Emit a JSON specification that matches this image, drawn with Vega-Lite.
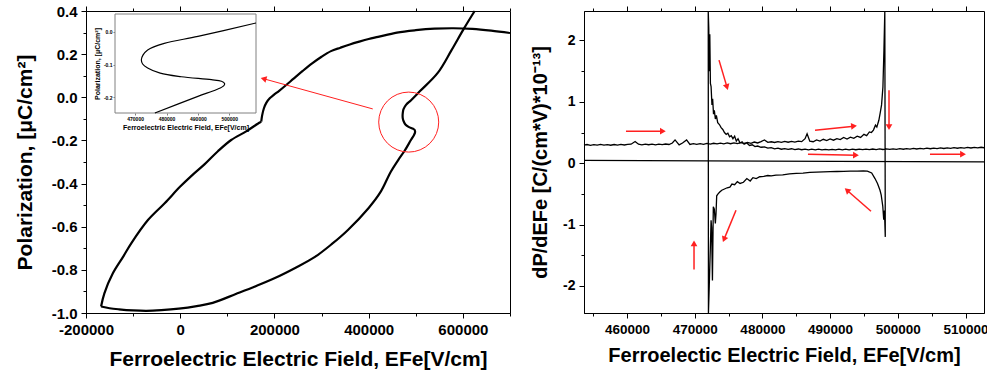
{
  "$schema": "https://vega.github.io/schema/vega-lite/v6.json",
  "background": "white",
  "padding": {"left": 13, "top": 3, "right": 0, "bottom": 0},
  "spacing": 15,
  "config": {
    "font": "Liberation Sans",
    "view": {"stroke": "black", "strokeWidth": 1},
    "axis": {"grid": false, "domainColor": "black", "domainWidth": 1, "tickColor": "black", "tickWidth": 1, "labelColor": "black", "titleColor": "black", "labelFontWeight": "bold", "titleFontWeight": "bold"}
  },
  "datasets": {
    "loop": [
      {"s":"lo","E":-168000,"P":-0.970},{"s":"lo","E":-150000,"P":-0.978},{"s":"lo","E":-130000,"P":-0.983},{"s":"lo","E":-100000,"P":-0.988},{"s":"lo","E":-72000,"P":-0.990},{"s":"lo","E":-40000,"P":-0.987},{"s":"lo","E":-3000,"P":-0.980},{"s":"lo","E":35000,"P":-0.968},{"s":"lo","E":69000,"P":-0.953},{"s":"lo","E":118000,"P":-0.912},{"s":"lo","E":160000,"P":-0.876},{"s":"lo","E":201000,"P":-0.838},{"s":"lo","E":245000,"P":-0.790},{"s":"lo","E":286000,"P":-0.740},{"s":"lo","E":322000,"P":-0.680},{"s":"lo","E":356000,"P":-0.615},{"s":"lo","E":400000,"P":-0.513},{"s":"lo","E":425000,"P":-0.440},{"s":"lo","E":447000,"P":-0.345},{"s":"lo","E":463000,"P":-0.290},{"s":"lo","E":476300,"P":-0.248},{"s":"lo","E":490000,"P":-0.197},{"s":"lo","E":496000,"P":-0.176},{"s":"lo","E":498200,"P":-0.165},{"s":"lo","E":498500,"P":-0.158},{"s":"lo","E":497500,"P":-0.151},{"s":"lo","E":494300,"P":-0.146},{"s":"lo","E":484700,"P":-0.137},{"s":"lo","E":478000,"P":-0.126},{"s":"lo","E":474000,"P":-0.110},{"s":"lo","E":472400,"P":-0.098},{"s":"lo","E":472000,"P":-0.085},{"s":"lo","E":472500,"P":-0.071},{"s":"lo","E":474000,"P":-0.055},{"s":"lo","E":479300,"P":-0.035},{"s":"lo","E":490000,"P":-0.0135},{"s":"lo","E":508500,"P":0.0275},{"s":"lo","E":546600,"P":0.113},{"s":"lo","E":575000,"P":0.215},{"s":"lo","E":601800,"P":0.317},{"s":"lo","E":625000,"P":0.400},
      {"s":"u1","E":700000,"P":0.298},{"s":"u1","E":660000,"P":0.309},{"s":"u1","E":620000,"P":0.317},{"s":"u1","E":580000,"P":0.320},{"s":"u1","E":540000,"P":0.318},{"s":"u1","E":500000,"P":0.311},{"s":"u1","E":460000,"P":0.300},{"s":"u1","E":420000,"P":0.280},{"s":"u1","E":400000,"P":0.270},{"s":"u1","E":380000,"P":0.258},{"s":"u1","E":360000,"P":0.245},{"s":"u1","E":340000,"P":0.230},{"s":"u1","E":320000,"P":0.214},{"s":"u1","E":300000,"P":0.188},{"s":"u1","E":280000,"P":0.157},{"s":"u1","E":260000,"P":0.122},{"s":"u1","E":240000,"P":0.085},{"s":"u1","E":225000,"P":0.057},{"s":"u1","E":210000,"P":0.030},{"s":"u1","E":198000,"P":0.010},{"s":"u1","E":190000,"P":-0.005},{"s":"u1","E":183000,"P":-0.025},{"s":"u1","E":177500,"P":-0.052},{"s":"u1","E":173800,"P":-0.085},{"s":"u1","E":172000,"P":-0.113},
      {"s":"u2","E":172000,"P":-0.113},{"s":"u2","E":168500,"P":-0.117},{"s":"u2","E":140000,"P":-0.158},{"s":"u2","E":108200,"P":-0.198},{"s":"u2","E":80000,"P":-0.250},{"s":"u2","E":52000,"P":-0.310},{"s":"u2","E":25000,"P":-0.362},{"s":"u2","E":0,"P":-0.414},{"s":"u2","E":-33000,"P":-0.491},{"s":"u2","E":-68500,"P":-0.569},{"s":"u2","E":-104000,"P":-0.677},{"s":"u2","E":-120000,"P":-0.735},{"s":"u2","E":-143000,"P":-0.816},{"s":"u2","E":-161000,"P":-0.909},{"s":"u2","E":-168000,"P":-0.970}
    ],
    "deriv": [
      {"s":"m","E":453650,"D":0.295},{"s":"m","E":454100,"D":0.305},{"s":"m","E":454600,"D":0.292},{"s":"m","E":455100,"D":0.303},{"s":"m","E":455600,"D":0.294},{"s":"m","E":456100,"D":0.306},{"s":"m","E":456600,"D":0.295},{"s":"m","E":457100,"D":0.304},{"s":"m","E":457600,"D":0.293},{"s":"m","E":458100,"D":0.305},{"s":"m","E":458600,"D":0.296},{"s":"m","E":459100,"D":0.307},{"s":"m","E":459600,"D":0.297},{"s":"m","E":460100,"D":0.306},{"s":"m","E":460600,"D":0.31},{"s":"m","E":461200,"D":0.355},{"s":"m","E":461700,"D":0.31},{"s":"m","E":462200,"D":0.3},{"s":"m","E":462700,"D":0.312},{"s":"m","E":463200,"D":0.301},{"s":"m","E":463700,"D":0.311},{"s":"m","E":464200,"D":0.3},{"s":"m","E":464700,"D":0.312},{"s":"m","E":465200,"D":0.302},{"s":"m","E":465700,"D":0.313},{"s":"m","E":466200,"D":0.305},{"s":"m","E":466700,"D":0.33},{"s":"m","E":467100,"D":0.38},{"s":"m","E":467700,"D":0.3},{"s":"m","E":468200,"D":0.33},{"s":"m","E":468800,"D":0.38},{"s":"m","E":469300,"D":0.305},{"s":"m","E":469800,"D":0.318},{"s":"m","E":470300,"D":0.306},{"s":"m","E":470800,"D":0.32},{"s":"m","E":471300,"D":0.308},{"s":"m","E":471800,"D":0.322},{"s":"m","E":472300,"D":0.312},{"s":"m","E":472800,"D":0.325},{"s":"m","E":473300,"D":0.314},{"s":"m","E":473800,"D":0.327},{"s":"m","E":474300,"D":0.316},{"s":"m","E":474800,"D":0.33},{"s":"m","E":475300,"D":0.318},{"s":"m","E":475800,"D":0.332},{"s":"m","E":476300,"D":0.32},{"s":"m","E":476800,"D":0.335},{"s":"m","E":477300,"D":0.322},{"s":"m","E":477800,"D":0.34},{"s":"m","E":478300,"D":0.325},{"s":"m","E":478800,"D":0.345},{"s":"m","E":479300,"D":0.33},{"s":"m","E":479800,"D":0.352},{"s":"m","E":480300,"D":0.38},{"s":"m","E":480800,"D":0.34},{"s":"m","E":481300,"D":0.35},{"s":"m","E":481800,"D":0.338},{"s":"m","E":482300,"D":0.352},{"s":"m","E":482800,"D":0.34},{"s":"m","E":483300,"D":0.355},{"s":"m","E":483800,"D":0.342},{"s":"m","E":484300,"D":0.356},{"s":"m","E":484800,"D":0.345},{"s":"m","E":485300,"D":0.36},{"s":"m","E":485800,"D":0.352},{"s":"m","E":486300,"D":0.4},{"s":"m","E":486600,"D":0.48},{"s":"m","E":487000,"D":0.36},{"s":"m","E":487500,"D":0.35},{"s":"m","E":488000,"D":0.38},{"s":"m","E":488500,"D":0.36},{"s":"m","E":489000,"D":0.39},{"s":"m","E":489500,"D":0.37},{"s":"m","E":490000,"D":0.395},{"s":"m","E":490500,"D":0.375},{"s":"m","E":491000,"D":0.4},{"s":"m","E":491500,"D":0.385},{"s":"m","E":492000,"D":0.42},{"s":"m","E":492500,"D":0.395},{"s":"m","E":493000,"D":0.425},{"s":"m","E":493500,"D":0.405},{"s":"m","E":494000,"D":0.44},{"s":"m","E":494500,"D":0.42},{"s":"m","E":495000,"D":0.47},{"s":"m","E":495400,"D":0.45},{"s":"m","E":495800,"D":0.51},{"s":"m","E":496100,"D":0.5},{"s":"m","E":496400,"D":0.54},{"s":"m","E":496700,"D":0.62},{"s":"m","E":496900,"D":0.59},{"s":"m","E":497200,"D":0.7},{"s":"m","E":497400,"D":0.82},{"s":"m","E":497600,"D":0.95},{"s":"m","E":497800,"D":1.24},{"s":"m","E":497950,"D":1.84},{"s":"m","E":498080,"D":2.48},
      {"s":"m","E":498150,"D":-1.2},{"s":"m","E":498030,"D":-0.77},{"s":"m","E":497920,"D":-0.92},{"s":"m","E":497780,"D":-0.7},{"s":"m","E":497550,"D":-0.52},{"s":"m","E":497370,"D":-0.44},{"s":"m","E":497000,"D":-0.33},{"s":"m","E":496630,"D":-0.25},{"s":"m","E":496140,"D":-0.158},{"s":"m","E":495500,"D":-0.13},{"s":"m","E":494900,"D":-0.125},{"s":"m","E":494000,"D":-0.13},{"s":"m","E":493000,"D":-0.128},{"s":"m","E":492000,"D":-0.133},{"s":"m","E":491000,"D":-0.135},{"s":"m","E":490000,"D":-0.138},{"s":"m","E":489000,"D":-0.14},{"s":"m","E":488000,"D":-0.145},{"s":"m","E":487000,"D":-0.15},{"s":"m","E":486000,"D":-0.16},{"s":"m","E":485000,"D":-0.165},{"s":"m","E":484000,"D":-0.175},{"s":"m","E":483000,"D":-0.19},{"s":"m","E":482000,"D":-0.195},{"s":"m","E":481300,"D":-0.205},{"s":"m","E":480800,"D":-0.2},{"s":"m","E":480200,"D":-0.215},{"s":"m","E":479600,"D":-0.22},{"s":"m","E":479100,"D":-0.25},{"s":"m","E":478600,"D":-0.235},{"s":"m","E":478200,"D":-0.29},{"s":"m","E":477700,"D":-0.25},{"s":"m","E":477200,"D":-0.31},{"s":"m","E":476700,"D":-0.33},{"s":"m","E":476300,"D":-0.3},{"s":"m","E":475900,"D":-0.35},{"s":"m","E":475500,"D":-0.34},{"s":"m","E":475200,"D":-0.39},{"s":"m","E":474800,"D":-0.4},{"s":"m","E":474400,"D":-0.42},{"s":"m","E":474000,"D":-0.44},{"s":"m","E":473700,"D":-0.47},{"s":"m","E":473450,"D":-0.5},{"s":"m","E":473250,"D":-0.53},{"s":"m","E":473150,"D":-0.82},{"s":"m","E":473050,"D":-0.98},{"s":"m","E":472900,"D":-0.75},{"s":"m","E":472750,"D":-0.71},{"s":"m","E":472620,"D":-1.91},{"s":"m","E":472500,"D":-1.05},{"s":"m","E":472420,"D":-0.93},{"s":"m","E":472300,"D":-1.42},{"s":"m","E":472150,"D":-2.0},{"s":"m","E":472030,"D":-2.44},{"s":"m","E":472000,"D":2.48},
      {"s":"m","E":472080,"D":2.2},{"s":"m","E":472150,"D":1.5},{"s":"m","E":472230,"D":2.1},{"s":"m","E":472320,"D":1.3},{"s":"m","E":472420,"D":1.25},{"s":"m","E":472550,"D":0.95},{"s":"m","E":472650,"D":1.05},{"s":"m","E":472780,"D":0.8},{"s":"m","E":472900,"D":0.86},{"s":"m","E":473050,"D":0.72},{"s":"m","E":473200,"D":0.78},{"s":"m","E":473400,"D":0.66},{"s":"m","E":473650,"D":0.63},{"s":"m","E":473900,"D":0.58},{"s":"m","E":474150,"D":0.55},{"s":"m","E":474400,"D":0.5},{"s":"m","E":474650,"D":0.47},{"s":"m","E":474900,"D":0.49},{"s":"m","E":475150,"D":0.43},{"s":"m","E":475400,"D":0.45},{"s":"m","E":475650,"D":0.4},{"s":"m","E":475900,"D":0.44},{"s":"m","E":476150,"D":0.36},{"s":"m","E":476400,"D":0.4},{"s":"m","E":476700,"D":0.33},{"s":"m","E":477000,"D":0.35},{"s":"m","E":477300,"D":0.31},{"s":"m","E":477700,"D":0.33},{"s":"m","E":478100,"D":0.29},{"s":"m","E":478500,"D":0.3},{"s":"m","E":478900,"D":0.27},{"s":"m","E":479300,"D":0.28},{"s":"m","E":479800,"D":0.26},{"s":"m","E":480300,"D":0.265},{"s":"m","E":480800,"D":0.245},{"s":"m","E":481300,"D":0.255},{"s":"m","E":481800,"D":0.235},{"s":"m","E":482300,"D":0.245},{"s":"m","E":482800,"D":0.228},{"s":"m","E":483300,"D":0.238},{"s":"m","E":483800,"D":0.226},{"s":"m","E":484300,"D":0.236},{"s":"m","E":484800,"D":0.222},{"s":"m","E":485300,"D":0.232},{"s":"m","E":485800,"D":0.22},{"s":"m","E":486300,"D":0.23},{"s":"m","E":486800,"D":0.218},{"s":"m","E":487300,"D":0.228},{"s":"m","E":487800,"D":0.218},{"s":"m","E":488300,"D":0.228},{"s":"m","E":488800,"D":0.217},{"s":"m","E":489300,"D":0.227},{"s":"m","E":489800,"D":0.217},{"s":"m","E":490300,"D":0.227},{"s":"m","E":490800,"D":0.218},{"s":"m","E":491300,"D":0.228},{"s":"m","E":491800,"D":0.218},{"s":"m","E":492300,"D":0.228},{"s":"m","E":492800,"D":0.219},{"s":"m","E":493300,"D":0.229},{"s":"m","E":493800,"D":0.22},{"s":"m","E":494300,"D":0.23},{"s":"m","E":494800,"D":0.221},{"s":"m","E":495300,"D":0.231},{"s":"m","E":495800,"D":0.222},{"s":"m","E":496300,"D":0.232},{"s":"m","E":496800,"D":0.223},{"s":"m","E":497300,"D":0.233},{"s":"m","E":497800,"D":0.224},{"s":"m","E":498300,"D":0.234},{"s":"m","E":498800,"D":0.225},{"s":"m","E":499300,"D":0.235},{"s":"m","E":499800,"D":0.226},{"s":"m","E":500300,"D":0.237},{"s":"m","E":500800,"D":0.228},{"s":"m","E":501300,"D":0.239},{"s":"m","E":501800,"D":0.23},{"s":"m","E":502300,"D":0.241},{"s":"m","E":502800,"D":0.232},{"s":"m","E":503300,"D":0.243},{"s":"m","E":503800,"D":0.234},{"s":"m","E":504300,"D":0.245},{"s":"m","E":504800,"D":0.236},{"s":"m","E":505300,"D":0.247},{"s":"m","E":505800,"D":0.238},{"s":"m","E":506300,"D":0.249},{"s":"m","E":506800,"D":0.24},{"s":"m","E":507300,"D":0.251},{"s":"m","E":507800,"D":0.242},{"s":"m","E":508300,"D":0.253},{"s":"m","E":508800,"D":0.244},{"s":"m","E":509300,"D":0.255},{"s":"m","E":509800,"D":0.246},{"s":"m","E":510300,"D":0.257},{"s":"m","E":510800,"D":0.248},{"s":"m","E":511300,"D":0.259},{"s":"m","E":511800,"D":0.25},{"s":"m","E":512300,"D":0.26},{"s":"m","E":512730,"D":0.252},
      {"s":"f","E":453650,"D":0.045},{"s":"f","E":512730,"D":0.022}
    ],
    "arrL": [{"x1":408700,"y1":-0.054,"x2":176900,"y2":0.086,"a":285}],
    "arrR": [
      {"x1":459850,"y1":0.522,"x2":465300,"y2":0.522,"a":90},
      {"x1":473590,"y1":1.68,"x2":474770,"y2":1.24,"a":163},
      {"x1":487770,"y1":0.538,"x2":493530,"y2":0.604,"a":84},
      {"x1":498700,"y1":1.19,"x2":498700,"y2":0.587,"a":180},
      {"x1":486730,"y1":0.147,"x2":493820,"y2":0.13,"a":91},
      {"x1":504750,"y1":0.147,"x2":509630,"y2":0.147,"a":90},
      {"x1":496040,"y1":-0.783,"x2":492490,"y2":-0.44,"a":311},
      {"x1":476100,"y1":-0.767,"x2":474330,"y2":-1.24,"a":202},
      {"x1":469900,"y1":-1.73,"x2":469900,"y2":-1.305,"a":0}
    ],
    "circ": [{"E":485000,"P":-0.115}],
    "insetbox": [{"x1":463600,"x2":508500,"y1":-0.248,"y2":0.055}]
  },
  "hconcat": [
    {
      "width": 424,
      "height": 302,
      "layer": [
        {
          "layer": [
            {
              "data": {"name": "loop"},
              "mark": {"type": "line", "interpolate": "catmull-rom", "strokeWidth": 2.2, "color": "black"},
              "encoding": {
                "x": {"field": "E", "type": "quantitative", "scale": {"domain": [-200000, 700000], "nice": false, "zero": false},
                  "axis": {"orient": "bottom", "title": "Ferroelectric Electric Field, EFe[V/cm]", "values": [-200000,-100000,0,100000,200000,300000,400000,500000,600000,700000],
                    "labelExpr": "datum.value % 200000 == 0 ? replace(format(datum.value, 'd'), '\u2212', '-') : ''",
                    "tickSize": {"condition": {"test": "datum.value % 200000 == 0", "value": 5}, "value": 3},
                    "labelFontSize": 15, "titleFontSize": 21, "labelPadding": 4, "titlePadding": 11, "labelOverlap": false, "labelFlush": false}},
                "y": {"field": "P", "type": "quantitative", "scale": {"domain": [-1.0, 0.4], "nice": false, "zero": false},
                  "axis": {"orient": "left", "title": "Polarization, [μC/cm²]", "values": [-1,-0.9,-0.8,-0.7,-0.6,-0.5,-0.4,-0.3,-0.2,-0.1,0,0.1,0.2,0.3,0.4],
                    "labelExpr": "abs(round(datum.value*10)) % 2 == 0 ? replace(format(datum.value, '.1f'), '\u2212', '-') : ''",
                    "tickSize": {"condition": {"test": "abs(round(datum.value*10)) % 2 == 0", "value": 5}, "value": 3},
                    "labelFontSize": 15, "titleFontSize": 21, "labelPadding": 4, "titlePadding": 16, "labelOverlap": false}},
                "detail": {"field": "s"},
                "order": {"value": null}
              }
            },
            {
              "data": {"name": "circ"},
              "mark": {"type": "point", "opacity": 0},
              "encoding": {
                "x": {"field": "E", "type": "quantitative", "axis": {"orient": "top", "labels": false, "title": null, "domain": false, "values": [-200000,-100000,0,100000,200000,300000,400000,500000,600000,700000], "tickSize": {"condition": {"test": "datum.value % 200000 == 0", "value": 5}, "value": 3}}},
                "y": {"field": "P", "type": "quantitative", "axis": null}
              }
            },
            {
              "data": {"name": "arrL"},
              "mark": {"type": "rule", "color": "#ff2020", "strokeWidth": 1},
              "encoding": {
                "x": {"field": "x1", "type": "quantitative", "axis": null}, "x2": {"field": "x2"},
                "y": {"field": "y1", "type": "quantitative", "axis": null}, "y2": {"field": "y2"}
              }
            },
            {
              "data": {"name": "arrL"},
              "mark": {"type": "point", "shape": "triangle-up", "filled": true, "color": "#ff2020", "size": 45, "opacity": 1, "strokeWidth": 0},
              "encoding": {
                "x": {"field": "x2", "type": "quantitative", "axis": null},
                "y": {"field": "y2", "type": "quantitative", "axis": null},
                "angle": {"field": "a", "type": "quantitative", "scale": null}
              }
            },
            {
              "data": {"name": "circ"},
              "mark": {"type": "point", "shape": "circle", "filled": false, "color": "#ff2020", "strokeWidth": 1, "size": 3600, "opacity": 1},
              "encoding": {
                "x": {"field": "E", "type": "quantitative", "axis": null},
                "y": {"field": "P", "type": "quantitative", "axis": null}
              }
            }
          ],
          "resolve": {"axis": {"x": "independent", "y": "independent"}}
        },
        {
          "layer": [
            {
              "data": {"name": "insetbox"},
              "mark": {"type": "rect", "fill": "white", "stroke": "#808080", "strokeWidth": 1},
              "encoding": {
                "x": {"field": "x1", "type": "quantitative", "scale": {"domain": [463600, 508500], "range": [29, 170], "nice": false, "zero": false},
                  "axis": {"orient": "bottom", "offset": -200, "domain": false, "title": "Ferroelectric Electric Field, EFe[V/cm]", "values": [470000,480000,490000,500000], "format": "d", "labelFontSize": 5, "titleFontSize": 7, "tickSize": 2, "labelPadding": 1, "titlePadding": 2, "labelOverlap": false, "tickColor": "#808080"}},
                "x2": {"field": "x2"},
                "y": {"field": "y1", "type": "quantitative", "scale": {"domain": [-0.248, 0.055], "range": [102, 3], "nice": false, "zero": false},
                  "axis": {"orient": "left", "offset": -29, "domain": false, "title": "Polarization, [μC/cm²]", "values": [-0.2,-0.1,0], "labelExpr": "replace(format(datum.value, '.1f'), '\u2212', '-')", "labelFontSize": 5, "titleFontSize": 7, "tickSize": 2, "labelPadding": 1, "titlePadding": 3, "labelOverlap": false, "tickColor": "#808080"}},
                "y2": {"field": "y2"}
              }
            },
            {
              "data": {"name": "loop"},
              "transform": [
                {"filter": {"field": "s", "equal": "lo"}},
                {"filter": {"field": "E", "range": [463600, 508500]}},
                {"filter": {"field": "P", "range": [-0.248, 0.055]}}
              ],
              "mark": {"type": "line", "interpolate": "catmull-rom", "strokeWidth": 1.2, "color": "black"},
              "encoding": {
                "x": {"field": "E", "type": "quantitative"},
                "y": {"field": "P", "type": "quantitative"},
                "order": {"value": null}
              }
            }
          ]
        }
      ],
      "resolve": {"scale": {"x": "independent", "y": "independent"}}
    },
    {
      "width": 400,
      "height": 302,
      "layer": [
        {
          "data": {"name": "deriv"},
          "mark": {"type": "line", "strokeWidth": 1.3, "color": "black"},
          "encoding": {
            "x": {"field": "E", "type": "quantitative", "scale": {"domain": [453650, 512730], "nice": false, "zero": false},
              "axis": {"orient": "bottom", "title": "Ferroelectic Electric Field, EFe[V/cm]", "values": [455000,460000,465000,470000,475000,480000,485000,490000,495000,500000,505000,510000],
                "labelExpr": "datum.value % 10000 == 0 ? format(datum.value, 'd') : ''",
                "tickSize": {"condition": {"test": "datum.value % 10000 == 0", "value": 5}, "value": 3},
                "labelFontSize": 13.5, "titleFontSize": 20, "labelPadding": 4, "titlePadding": 10, "labelOverlap": false, "labelFlush": false}},
            "y": {"field": "D", "type": "quantitative", "scale": {"domain": [-2.44, 2.48], "nice": false, "zero": false},
              "axis": {"orient": "left", "title": "dP/dEFe [C/(cm*V)*10⁻¹³]", "values": [-2,-1.5,-1,-0.5,0,0.5,1,1.5,2],
                "labelExpr": "datum.value % 1 == 0 ? replace(format(datum.value, 'd'), '\u2212', '-') : ''",
                "tickSize": {"condition": {"test": "datum.value % 1 == 0", "value": 5}, "value": 3},
                "labelFontSize": 14, "titleFontSize": 20, "labelPadding": 4, "titlePadding": 12, "labelOverlap": false}},
            "detail": {"field": "s"},
            "order": {"value": null}
          }
        },
        {
          "data": {"name": "arrR"},
          "mark": {"type": "point", "opacity": 0},
          "encoding": {
            "x": {"field": "x1", "type": "quantitative", "axis": {"orient": "top", "labels": false, "title": null, "domain": false, "values": [455000,460000,465000,470000,475000,480000,485000,490000,495000,500000,505000,510000], "tickSize": {"condition": {"test": "datum.value % 10000 == 0", "value": 5}, "value": 3}}},
            "y": {"field": "y1", "type": "quantitative", "axis": null}
          }
        },
        {
          "data": {"name": "arrR"},
          "mark": {"type": "rule", "color": "#ff2020", "strokeWidth": 1.5},
          "encoding": {
            "x": {"field": "x1", "type": "quantitative", "axis": null}, "x2": {"field": "x2"},
            "y": {"field": "y1", "type": "quantitative", "axis": null}, "y2": {"field": "y2"}
          }
        },
        {
          "data": {"name": "arrR"},
          "mark": {"type": "point", "shape": "triangle-up", "filled": true, "color": "#ff2020", "size": 45, "opacity": 1, "strokeWidth": 0},
          "encoding": {
            "x": {"field": "x2", "type": "quantitative", "axis": null},
            "y": {"field": "y2", "type": "quantitative", "axis": null},
            "angle": {"field": "a", "type": "quantitative", "scale": null}
          }
        }
      ],
      "resolve": {"axis": {"x": "independent", "y": "independent"}}
    }
  ]
}
